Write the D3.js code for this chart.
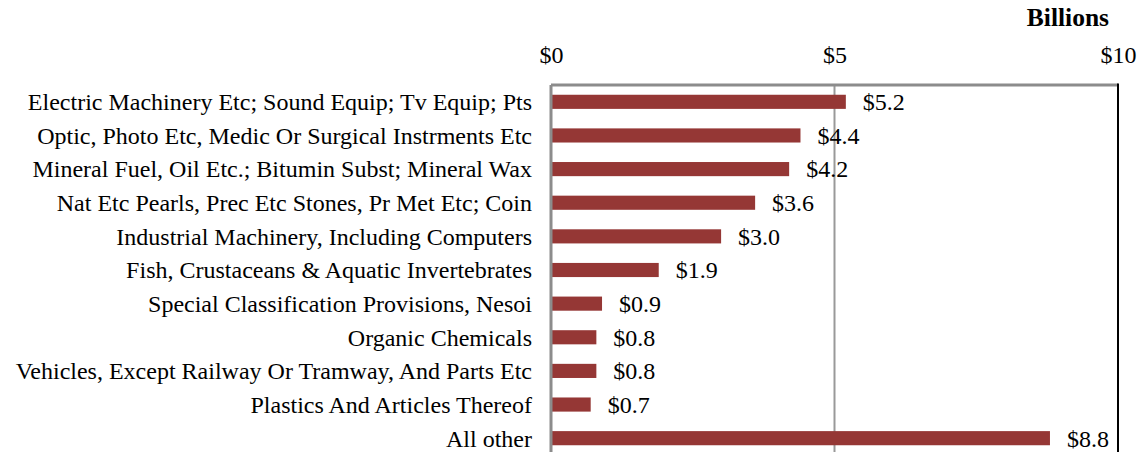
<!DOCTYPE html>
<html>
<head>
<meta charset="utf-8">
<script src="https://cdn.jsdelivr.net/npm/d3@7"></script>
<style>
  html, body { margin: 0; padding: 0; background: #fff; }
  svg { display: block; font-family: "Liberation Serif", "Times New Roman", serif; }
</style>
</head>
<body>
<svg id="chart" width="1143" height="452"></svg>
<script>
// Top export categories (billions of dollars)
const categories = [
  "Electric Machinery Etc; Sound Equip; Tv Equip; Pts",
  "Optic, Photo Etc, Medic Or Surgical Instrments Etc",
  "Mineral Fuel, Oil Etc.; Bitumin Subst; Mineral Wax",
  "Nat Etc Pearls, Prec Etc Stones, Pr Met Etc; Coin",
  "Industrial Machinery, Including Computers",
  "Fish, Crustaceans & Aquatic Invertebrates",
  "Special Classification Provisions, Nesoi",
  "Organic Chemicals",
  "Vehicles, Except Railway Or Tramway, And Parts Etc",
  "Plastics And Articles Thereof",
  "All other"
];
const values = [5.2, 4.4, 4.2, 3.6, 3.0, 1.9, 0.9, 0.8, 0.8, 0.7, 8.8];
const tickValues = [0, 5, 10];
const tickLabels = ["$0", "$5", "$10"];
const unitLabel = "Billions";

const svg = d3.select("#chart");
const plotLeft = 551, plotRight = 1118, plotTop = 85, plotBottom = 455;
const fontSize = 24;

const x = d3.scaleLinear().domain([0, 10]).range([plotLeft, plotRight]);
const y = d3.scaleBand().domain(categories).range([plotTop, plotBottom])
  .paddingInner(0.58).paddingOuter(0.29);

// Gridline at interior tick
svg.append("g").selectAll("line")
  .data(tickValues.filter(v => v > 0 && v < 10))
  .join("line")
  .attr("x1", d => x(d)).attr("x2", d => x(d))
  .attr("y1", plotTop).attr("y2", plotBottom)
  .attr("stroke", "#999").attr("stroke-width", 2);

// Bars
svg.append("g").selectAll("rect")
  .data(values)
  .join("rect")
  .attr("x", x(0))
  .attr("y", (d, i) => y(categories[i]))
  .attr("width", d => x(d) - x(0))
  .attr("height", y.bandwidth())
  .attr("fill", "#953735");

// Plot frame
svg.append("line").attr("x1", x(0)).attr("x2", x(10)).attr("y1", plotTop).attr("y2", plotTop)
  .attr("stroke", "#8c8c8c").attr("stroke-width", 3);
svg.append("line").attr("x1", x(0)).attr("x2", x(0)).attr("y1", plotTop).attr("y2", plotBottom)
  .attr("stroke", "#8c8c8c").attr("stroke-width", 3);
svg.append("line").attr("x1", x(10)).attr("x2", x(10)).attr("y1", plotTop - 1.5).attr("y2", plotBottom)
  .attr("stroke", "#000").attr("stroke-width", 2);

// Top axis labels
const axis = d3.axisTop(x).tickValues(tickValues)
  .tickFormat((d, i) => tickLabels[i]).tickSize(0).tickPadding(0);
const axisG = svg.append("g").attr("transform", "translate(0,63)").call(axis);
axisG.select(".domain").remove();
axisG.selectAll("text")
  .attr("font-size", fontSize).attr("font-family", "Liberation Serif, serif")
  .attr("fill", "#000").attr("dy", 0);

// Unit label
svg.append("text").attr("x", 1109).attr("y", 26).attr("text-anchor", "end")
  .attr("font-size", 25.5).attr("font-weight", "bold").text(unitLabel);

// Category labels
svg.append("g").selectAll("text")
  .data(categories)
  .join("text")
  .attr("x", 532)
  .attr("y", d => y(d) + y.bandwidth() / 2)
  .attr("dy", "0.35em")
  .attr("text-anchor", "end")
  .attr("font-size", fontSize)
  .text(d => d);

// Value labels, placed just past the end of each bar
svg.append("g").selectAll("text")
  .data(values)
  .join("text")
  .attr("x", d => x(d) + 17)
  .attr("y", (d, i) => y(categories[i]) + y.bandwidth() / 2)
  .attr("dy", "0.35em")
  .attr("font-size", fontSize)
  .text(d => "$" + d.toFixed(1));
</script>
</body>
</html>
